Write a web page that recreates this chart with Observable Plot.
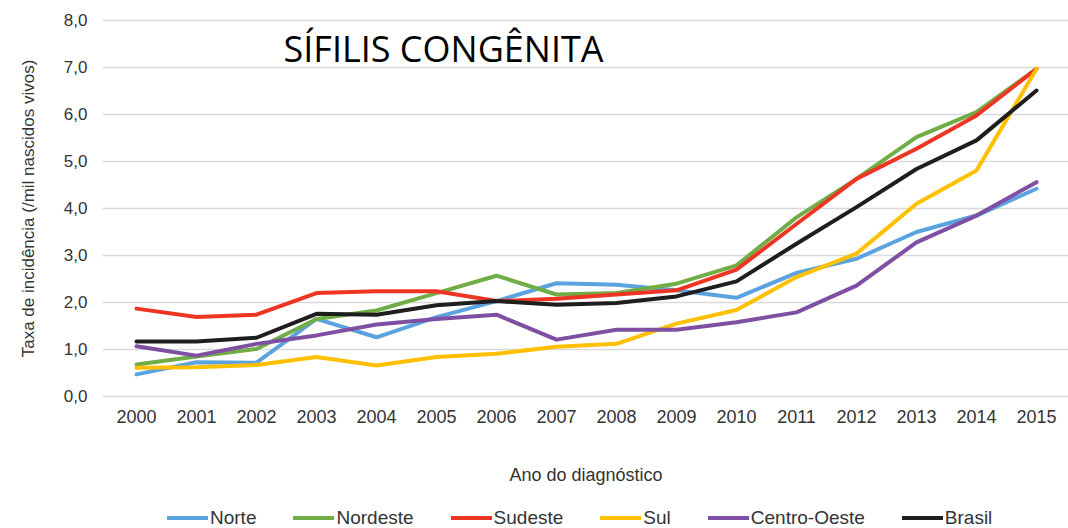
<!DOCTYPE html>
<html>
<head>
<meta charset="utf-8">
<script src="https://cdn.jsdelivr.net/npm/d3@7"></script>
<script src="https://cdn.jsdelivr.net/npm/@observablehq/plot@0.6"></script>
<style>
  body { margin: 0; background: #fff; font-family: "Liberation Sans", Arial, sans-serif; }
  #wrap { position: relative; width: 1068px; height: 528px; overflow: hidden; }
  #legend { position: absolute; left: 167px; top: 507px; display: flex; align-items: center; font-size: 19px; color: #333; }
  .item { display: flex; align-items: center; margin-right: 37px; }
  .sw { width: 41px; height: 4px; margin-right: 2px; }
</style>
</head>
<body>
<div id="wrap"></div>
<script>
const years = [2000,2001,2002,2003,2004,2005,2006,2007,2008,2009,2010,2011,2012,2013,2014,2015];
const seriesNames = ["Norte","Nordeste","Sudeste","Sul","Centro-Oeste","Brasil"];
const seriesColors = ["#5BA3DE","#70AD47","#EE3524","#FFC000","#7E4FA3","#1E1E1E"];
const norte = [0.47,0.73,0.72,1.65,1.26,1.69,2.03,2.41,2.38,2.26,2.10,2.63,2.93,3.50,3.85,4.42];
const nordeste = [0.68,0.85,1.01,1.65,1.83,2.20,2.57,2.17,2.20,2.40,2.79,3.81,4.63,5.52,6.05,6.97];
const sudeste = [1.87,1.69,1.74,2.20,2.24,2.24,2.03,2.08,2.17,2.26,2.70,3.67,4.63,5.27,5.98,6.97];
const sul = [0.61,0.62,0.67,0.84,0.66,0.84,0.91,1.06,1.12,1.55,1.84,2.54,3.04,4.10,4.81,6.97];
const centroOeste = [1.07,0.87,1.12,1.30,1.53,1.65,1.74,1.21,1.42,1.42,1.58,1.79,2.36,3.28,3.85,4.56];
const brasil = [1.17,1.17,1.25,1.76,1.74,1.94,2.03,1.95,1.99,2.13,2.45,3.25,4.03,4.84,5.45,6.51];
const yTicks = [0,1,2,3,4,5,6,7,8];
const title = "SÍFILIS CONGÊNITA";
const xLabel = "Ano do diagnóstico";
const yLabel = "Taxa de incidência (/mil nascidos vivos)";

const allValues = [norte, nordeste, sudeste, sul, centroOeste, brasil];
const data = [];
seriesNames.forEach((name, i) => {
  years.forEach((yr, j) => data.push({serie: name, ano: String(yr), valor: allValues[i][j]}));
});

const chart = Plot.plot({
  width: 1068,
  height: 500,
  marginLeft: 103,
  marginRight: 0,
  marginTop: 20,
  marginBottom: 104,
  style: { fontFamily: "'Liberation Sans', Arial, sans-serif", color: "#333", background: "#fff" },
  x: { type: "point", domain: years.map(String), padding: 0.5 },
  y: { domain: [0, 8] },
  color: { domain: seriesNames, range: seriesColors },
  marks: [
    Plot.ruleY(yTicks, { stroke: "#d9d9d9", strokeWidth: 1.5 }),
    Plot.axisY({ ticks: yTicks, tickSize: 0, tickPadding: 16, fontSize: 17,
      tickFormat: d => d.toFixed(1).replace(".", ","),
      label: yLabel, labelAnchor: "center", labelArrow: "none", labelOffset: 82 }),
    Plot.axisX({ tickSize: 0, tickPadding: 14, fontSize: 18,
      label: xLabel, labelAnchor: "center", labelArrow: "none", labelOffset: 84 }),
    Plot.line(data, { x: "ano", y: "valor", z: "serie", stroke: "serie", strokeWidth: 4, strokeLinejoin: "round" }),
    Plot.text([title], { frameAnchor: "top-left", dx: 180, dy: 30, fontSize: 36, fill: "#000",
      fontFamily: "'Open Sans', sans-serif", textAnchor: "start", lineAnchor: "middle" })
  ]
});
const wrap = document.getElementById("wrap");
wrap.appendChild(chart);
const legend = document.createElement("div");
legend.id = "legend";
seriesNames.forEach((n, i) => {
  const it = document.createElement("div");
  it.className = "item";
  const sw = document.createElement("div");
  sw.className = "sw";
  sw.style.background = seriesColors[i];
  const t = document.createElement("span");
  t.textContent = n;
  it.appendChild(sw); it.appendChild(t);
  legend.appendChild(it);
});
wrap.appendChild(legend);
</script>
</body>
</html>
